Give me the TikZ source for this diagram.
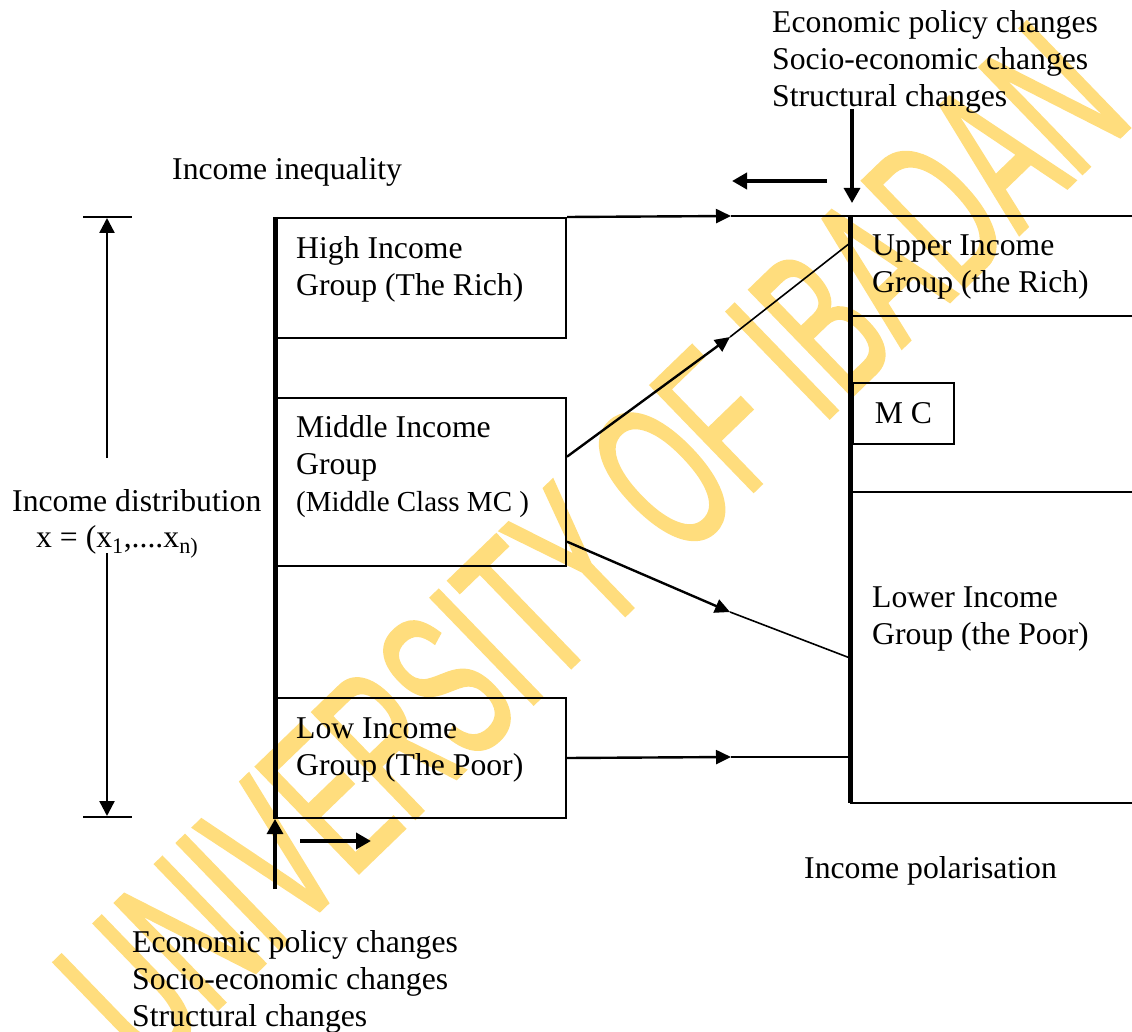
\documentclass[tikz,border=0pt]{standalone}
\usepackage{fontspec}
\setmainfont{Liberation Serif}
\newfontfamily\wmfont[FakeStretch=0.547,FakeBold=1.2]{Liberation Sans}
\usetikzlibrary{arrows.meta,calc,decorations.text}
\definecolor{wmyellow}{RGB}{255,221,125}
\tikzset{
  txt/.style={font=\fontsize{31.7pt}{37pt}\selectfont, inner sep=0pt, align=left, anchor=base west},
  smalltxt/.style={font=\fontsize{29pt}{37pt}\selectfont, inner sep=0pt, align=left, anchor=base west},
  grp/.style={draw, line width=2pt, minimum width=290pt, anchor=north west, inner sep=0pt},
  thinline/.style={line width=1.6pt},
  shaft/.style={line width=2.4pt, -{Triangle[length=15pt,width=14pt]}},
  boldarrow/.style={line width=3.8pt, -{Triangle[length=15pt,width=16pt]}},
  axisline/.style={line width=5pt},
  meas/.style={line width=2.4pt, -{Triangle[length=15pt,width=15pt]}},
  tick/.style={line width=2pt},
}
\begin{document}
\begin{tikzpicture}[x=1pt,y=-1pt]
\useasboundingbox (0,0) rectangle (1132,1032);

% watermark
\path[decoration={text along path, text align=left,
  text={|\wmfont\fontsize{215pt}{215pt}\selectfont\color{wmyellow}|UNIVERSITY OF IBADAN}}, decorate]
  (150,1075) -- (1200,60);

% left boxes (multi-line texts: anchor is the baseline of the last line)
\node[grp, minimum height=120pt] (high) at (275,217) {};
\node[grp, minimum height=168pt] (mid) at (275,397) {};
\node[grp, minimum height=120pt] (low) at (275,697) {};
\node[txt] (highT) at (296,295) {High Income\\Group (The Rich)};
\node[txt] (midT) at (296,474) {Middle Income\\Group};
\node[smalltxt] (midT2) at (296,511) {(Middle Class MC )};
\node[txt] (lowT) at (296,775) {Low Income\\Group (The Poor)};

% left axis
\draw[axisline] (high.north west) -- (low.south west);

% junction coordinates
\coordinate (tipTop) at (731,216);
\coordinate (tipUp) at (730,337);
\coordinate (tipDown) at (730,612);
\coordinate (tipLow) at (731,757);
\coordinate (rTop) at (850,216);
\coordinate (rUp) at (850,243);
\coordinate (rDown) at (850,658);
\coordinate (rLow) at (850,757);
\coordinate (rBot) at (850,803);
\coordinate (mU) at ($(mid.north east)!0.351!(mid.south east)$);
\coordinate (mD) at ($(mid.north east)!0.851!(mid.south east)$);

% connectors
\draw[shaft] (high.north east) -- (tipTop);
\draw[thinline] (tipTop) -- (1132,216);
\draw[shaft] (mU) -- (tipUp);
\draw[thinline] (tipUp) -- (rUp);
\draw[shaft] (mD) -- (tipDown);
\draw[thinline] (tipDown) -- (rDown);
\draw[shaft] (low.east) -- (tipLow);
\draw[thinline] (tipLow) -- (rLow);

% right panel
\draw[thinline] (850,316) -- (1132,316);
\draw[thinline] (850,492) -- (1132,492);
\draw[thinline] (rBot) -- (1132,803);
\draw[axisline] (rTop) -- (rBot);
\node[draw, line width=2pt, minimum width=101pt, minimum height=61pt, anchor=north west,
  inner sep=0pt, font=\fontsize{31.7pt}{37pt}\selectfont] (mc) at (852,382) {M C};
\node[txt] (upperT) at (872,293) {Upper Income\\Group (the Rich)};
\node[txt] (lowerT) at (872,644) {Lower Income\\Group (the Poor)};

% top labels and arrows
\node[txt] (topT) at (772,107) {Economic policy changes\\Socio-economic changes\\Structural changes};
\coordinate (downS) at (852,109);
\coordinate (downE) at (852,203);
\draw[boldarrow, line width=3.2pt] (downS) -- (downE);
\coordinate (leftS) at (827,181);
\coordinate (leftE) at (732,181);
\draw[boldarrow] (leftS) -- (leftE);
\node[txt] (ineqT) at (172,180) {Income inequality};

% bottom labels and arrows
\node[txt] (botT) at (132,1026) {Economic policy changes\\Socio-economic changes\\Structural changes};
\coordinate (upS) at (275,889);
\draw[boldarrow, line width=3.2pt] (upS) -- (low.south west);
\coordinate (rightS) at (300,841);
\coordinate (rightE) at (371,841);
\draw[boldarrow] (rightS) -- (rightE);
\node[txt] (polT) at (804,878) {Income polarisation};

% distribution measure
\node[txt] (distT) at (12,511) {Income distribution};
\node[txt] (xT) at (36,547) {x = (x\textsubscript{1},....x\textsubscript{n)}};
\coordinate (tickTopL) at (83,217);
\coordinate (tickTopR) at (132,217);
\coordinate (tickBotL) at (83,817);
\coordinate (tickBotR) at (132,817);
\coordinate (measUpS) at (107,458);
\coordinate (measUpE) at (107,218);
\coordinate (measDnS) at (107,553);
\coordinate (measDnE) at (107,816);
\draw[tick] (tickTopL) -- (tickTopR);
\draw[tick] (tickBotL) -- (tickBotR);
\draw[meas] (measUpS) -- (measUpE);
\draw[meas] (measDnS) -- (measDnE);
\end{tikzpicture}
\end{document}
